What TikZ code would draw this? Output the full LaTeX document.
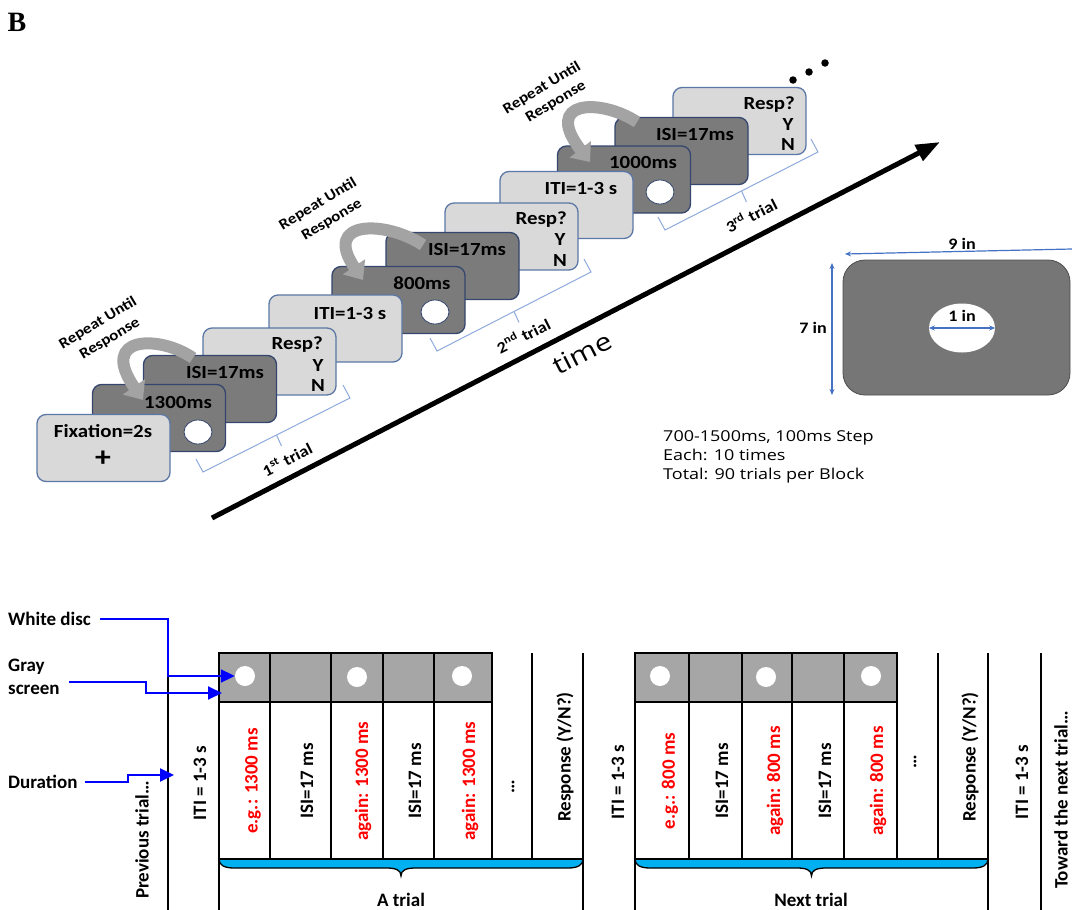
\documentclass[tikz,border=0pt]{standalone}
\usepackage{fontspec}
\setmainfont{Carlito}
\newfontfamily\topfont[FakeStretch=1.13]{Carlito}
\newfontfamily\notefont[FakeStretch=1.2]{Open Sans}
\newfontfamily\panelfont{Liberation Serif}
\usetikzlibrary{arrows.meta,shapes.geometric}

\definecolor{cardlight}{HTML}{D9D9D9}
\definecolor{carddark}{HTML}{7B7B7B}
\definecolor{edgelight}{HTML}{5B77A6}
\definecolor{edgedark}{HTML}{34466E}
\definecolor{ribbongray}{HTML}{A3A3A3}
\definecolor{bracketblue}{HTML}{8EA9DB}
\definecolor{dimblue}{HTML}{4472C4}
\definecolor{screengray}{HTML}{767676}
\definecolor{rowgray}{HTML}{A6A6A6}
\definecolor{bracecyan}{HTML}{00B0F0}
\definecolor{pointerblue}{HTML}{0000FF}

\begin{document}
\begin{tikzpicture}[x=1pt,y=-1pt,
  lightcard/.style={draw=edgelight, fill=cardlight, line width=1.3pt, rounded corners=9pt, minimum width=133pt, minimum height=67pt, inner sep=0pt},
  darkcard/.style={lightcard, draw=edgedark, fill=carddark},
  cardtxt/.style={font=\topfont\fontsize{18.5}{20}\selectfont\bfseries, inner sep=0pt},
  carddisc/.style={ellipse, fill=white, draw=edgedark, line width=0.8pt, minimum width=28pt, minimum height=24pt, inner sep=0pt},
  ribbon/.style={draw=ribbongray, line width=12pt, -{Triangle[length=16pt, width=26pt]}},
  ribbontxt/.style={font=\topfont\fontsize{15}{16}\selectfont\bfseries, rotate=31, inner sep=0pt},
  trialbrace/.style={draw=bracketblue, line width=1pt},
  trialtxt/.style={font=\topfont\fontsize{16}{17}\selectfont\bfseries, rotate=27, inner sep=0pt},
  dimtxt/.style={font=\topfont\fontsize{16}{17}\selectfont\bfseries, inner sep=0pt},
  dimarrow/.style={draw=dimblue, line width=1.2pt, {Stealth[length=6pt,width=5pt]}-{Stealth[length=6pt,width=5pt]}},
  screenbox/.style={fill=screengray, draw=black!70, line width=0.8pt, rounded corners=22pt, minimum width=227pt, minimum height=135pt},
  bigdisc/.style={ellipse, fill=white, minimum width=66pt, minimum height=49pt, inner sep=0pt},
  dotmark/.style={circle, fill=black, minimum size=7.5pt, inner sep=0pt},
  notetxt/.style={font=\notefont\fontsize{15}{19}\selectfont, align=left, inner sep=0pt},
  sidelabel/.style={font=\fontsize{19}{23}\selectfont\bfseries, align=left, anchor=west, inner sep=0pt},
  pointer/.style={draw=pointerblue, line width=2pt, -{Triangle[length=14pt,width=13pt]}},
  celltxt/.style={font=\fontsize{19}{21}\selectfont\bfseries, rotate=90, inner sep=0pt},
  redtxt/.style={celltxt, text=red},
  gridline/.style={draw=black, line width=2pt},
  celldisc/.style={circle, fill=white, minimum size=20pt, inner sep=0pt},
  trialbrc/.style={fill=bracecyan, draw=black, line width=1.3pt},
  trialname/.style={font=\fontsize{19}{21}\selectfont\bfseries, inner sep=0pt}
]
\useasboundingbox (0,0) rectangle (1072,910);

\node[font=\panelfont\fontsize{28}{28}\selectfont\bfseries, inner sep=0pt] (panelB) at (17,22) {B};

% third trial
\node[lightcard] (resp3) at (739.5,121) {};
\node[cardtxt, anchor=east] (resp3q) at (795,104.5) {Resp?};
\node[cardtxt] (resp3y) at (788,124.5) {Y};
\node[cardtxt] (resp3n) at (788,144.5) {N};
\node[darkcard] (isi3) at (681.5,151) {};
\node[cardtxt] (isi3t) at (695,135) {ISI=17ms};
\node[darkcard] (stim3) at (624,179.5) {};
\node[cardtxt] (stim3t) at (643,163) {1000ms};
\node[carddisc] (stim3d) at (660,192) {};
\node[lightcard] (iti2c) at (566.5,205) {};
\node[cardtxt] (iti2t) at (581,189) {ITI=1-3 s};

% second trial
\node[lightcard] (resp2) at (511.5,236.5) {};
\node[cardtxt, anchor=east] (resp2q) at (567,220) {Resp?};
\node[cardtxt] (resp2y) at (560,240) {Y};
\node[cardtxt] (resp2n) at (560,260) {N};
\node[darkcard] (isi2) at (452.5,266) {};
\node[cardtxt] (isi2t) at (467,249) {ISI=17ms};
\node[darkcard] (stim2) at (398.5,300) {};
\node[cardtxt] (stim2t) at (422,283) {800ms};
\node[carddisc] (stim2d) at (435,312) {};
\node[lightcard] (iti1c) at (335.5,328.5) {};
\node[cardtxt] (iti1t) at (350,313) {ITI=1-3 s};

% first trial
\node[lightcard] (resp1) at (269.5,361.5) {};
\node[cardtxt, anchor=east] (resp1q) at (323,345) {Resp?};
\node[cardtxt] (resp1y) at (318,365) {Y};
\node[cardtxt] (resp1n) at (318,385) {N};
\node[darkcard] (isi1) at (210,389) {};
\node[cardtxt] (isi1t) at (225,372) {ISI=17ms};
\node[darkcard] (stim1) at (159,418) {};
\node[cardtxt] (stim1t) at (178,402) {1300ms};
\node[carddisc] (stim1d) at (198,432) {};
\node[lightcard] (fix) at (103.5,448) {};
\node[cardtxt] (fixt) at (103,431) {Fixation=2s};
\node[cardtxt, font=\topfont\fontsize{28}{28}\selectfont\bfseries] (fixp) at (103,459) {+};

% repeat loops
\draw[ribbon] (193,358) .. controls (160,335) and (98,335) .. (143,400);
\draw[ribbon] (423,245) .. controls (385,220) and (322,220) .. (363,280);
\draw[ribbon] (637,122) .. controls (600,98) and (542,100) .. (590,162);
\node[ribbontxt] (rep1a) at (98,323) {Repeat Until};
\node[ribbontxt] (rep1b) at (110,339) {Response};
\node[ribbontxt] (rep2a) at (318,204) {Repeat Until};
\node[ribbontxt] (rep2b) at (332,220) {Response};
\node[ribbontxt] (rep3a) at (542,88) {Repeat Until};
\node[ribbontxt] (rep3b) at (556,102) {Response};

\node[dotmark] (dot1) at (793,80) {};
\node[dotmark] (dot2) at (809,72) {};
\node[dotmark] (dot3) at (825,63) {};

% trial brackets
\draw[trialbrace] (196,459) -- (203,472) -- (350,398) -- (343,385);
\draw[trialbrace] (276.5,435) -- ++(5,11);
\draw[trialbrace] (430,338) -- (437,351) -- (591,272) -- (584,259);
\draw[trialbrace] (514,311.5) -- ++(5,11);
\draw[trialbrace] (658,217) -- (665,230) -- (818,152) -- (811,139);
\draw[trialbrace] (741.5,191) -- ++(5,11);
\node[trialtxt] (trial1) at (287,459) {1\textsuperscript{st} trial};
\node[trialtxt] (trial2) at (523,335) {2\textsuperscript{nd} trial};
\node[trialtxt] (trial3) at (751,215) {3\textsuperscript{rd} trial};

% time axis
\coordinate (timeStart) at (212,518);
\coordinate (timeEnd) at (940,142);
\draw[line width=5pt, -{Triangle[length=24pt,width=17pt]}] (timeStart) -- (timeEnd);
\node[font=\notefont\fontsize{25}{25}\selectfont, rotate=27, inner sep=0pt] (timeLbl) at (582,353) {time};

% screen size
\node[screenbox] (screen) at (956.5,327.5) {};
\node[bigdisc] (bigdisc) at (962,328) {};
\draw[dimarrow] (bigdisc.west) -- (bigdisc.east);
\coordinate (sevenTop) at (832,263);
\coordinate (sevenBot) at (832,395);
\draw[dimarrow] (sevenTop) -- (sevenBot);
\coordinate (nineR) at (1072,249);
\coordinate (nineL) at (845,254);
\draw[draw=dimblue, line width=1.2pt, -{Stealth[length=6pt,width=5pt]}] (nineR) -- (nineL);
\node[dimtxt] (nineLbl) at (962,244) {9 in};
\node[dimtxt] (sevenLbl) at (813,328) {7 in};
\node[dimtxt] (oneLbl) at (962,316) {1 in};
\node[notetxt, anchor=north west] (blockinfo) at (663,430) {700-1500ms, 100ms Step\\Each: 10 times\\Total: 90 trials per Block};

% bottom: first table
\draw[gridline, fill=rowgray] (219,653) rectangle (492,702);
\draw[gridline] (168,653) -- (168,910);
\draw[gridline] (219,653) -- (219,910);
\draw[gridline] (270,653) -- (270,859);
\draw[gridline] (331,653) -- (331,859);
\draw[gridline] (383,653) -- (383,859);
\draw[gridline] (434,653) -- (434,859);
\draw[gridline] (492,653) -- (492,859);
\draw[gridline] (532,653) -- (532,859);
\draw[gridline] (583,653) -- (583,910);
\draw[trialbrc] (219,859) .. controls (219,865) and (224,868) .. (234,868) -- (386,868) .. controls (396,868) and (401,870) .. (401,876) .. controls (401,870) and (406,868) .. (416,868) -- (568,868) .. controls (578,868) and (583,865) .. (583,859) -- cycle;
\draw[gridline] (219,859) -- (583,859);

\node[celldisc] (disc1) at (245,676) {};
\node[celldisc] (disc3) at (357,677) {};
\node[celldisc] (disc5) at (462,676) {};

\node[celltxt] (prev) at (142,840) {Previous trial…};
\node[celltxt] (iti0) at (200,783) {ITI = 1-3 s};
\node[redtxt] (stimA1) at (253,781) {e.g.: 1300 ms};
\node[celltxt] (isiA1) at (307,781) {ISI=17 ms};
\node[redtxt] (stimA2) at (363,781) {again: 1300 ms};
\node[celltxt] (isiA2) at (415,781) {ISI=17 ms};
\node[redtxt] (stimA3) at (470,781) {again: 1300 ms};
\node[celltxt] (moreA) at (513,787) {…};
\node[celltxt] (respA) at (565,757) {Response (Y/N?)};
\node[trialname] (trialA) at (401,900) {A trial};

% bottom: second table
\draw[gridline, fill=rowgray] (635,653) rectangle (897,702);
\draw[gridline] (635,653) -- (635,910);
\draw[gridline] (689,653) -- (689,859);
\draw[gridline] (742,653) -- (742,859);
\draw[gridline] (792,653) -- (792,859);
\draw[gridline] (844,653) -- (844,859);
\draw[gridline] (897,653) -- (897,859);
\draw[gridline] (938,653) -- (938,859);
\draw[gridline] (988,653) -- (988,910);
\draw[gridline] (1041,653) -- (1041,910);
\draw[trialbrc] (635,859) .. controls (635,865) and (640,868) .. (650,868) -- (796.5,868) .. controls (806.5,868) and (811.5,870) .. (811.5,876) .. controls (811.5,870) and (816.5,868) .. (826.5,868) -- (973,868) .. controls (983,868) and (988,865) .. (988,859) -- cycle;
\draw[gridline] (635,859) -- (988,859);

\node[celldisc] (disc6) at (660,676) {};
\node[celldisc] (disc8) at (766,677) {};
\node[celldisc] (disc10) at (871,676) {};

\node[celltxt] (iti1) at (618,782) {ITI = 1-3 s};
\node[redtxt] (stimB1) at (670,781) {e.g.: 800 ms};
\node[celltxt] (isiB1) at (722,781) {ISI=17 ms};
\node[redtxt] (stimB2) at (775,781) {again: 800 ms};
\node[celltxt] (isiB2) at (825,781) {ISI=17 ms};
\node[redtxt] (stimB3) at (878,781) {again: 800 ms};
\node[celltxt] (moreB) at (915,762) {…};
\node[celltxt] (respB) at (970,757) {Response (Y/N?)};
\node[celltxt] (iti2) at (1022,782) {ITI = 1-3 s};
\node[celltxt] (toward) at (1061,800) {Toward the next trial…};
\node[trialname] (trialB) at (811,900) {Next trial};

% labels on the left
\node[sidelabel] (lblDisc) at (8,619) {White disc};
\node[sidelabel] (lblGray) at (8,677) {Gray\\screen};
\node[sidelabel] (lblDur) at (8,782) {Duration};
\coordinate (grayTip) at (222,693);
\coordinate (durTip) at (174,775);
\draw[pointer] ([xshift=9pt]lblDisc.east) -| (168,650) |- (disc1.west);
\draw[pointer] ([xshift=9pt,yshift=-4.5pt]lblGray.east) -| (146,688) |- (grayTip);
\draw[pointer] ([xshift=7pt]lblDur.east) -| (128,778) |- (durTip);
\end{tikzpicture}
\end{document}
